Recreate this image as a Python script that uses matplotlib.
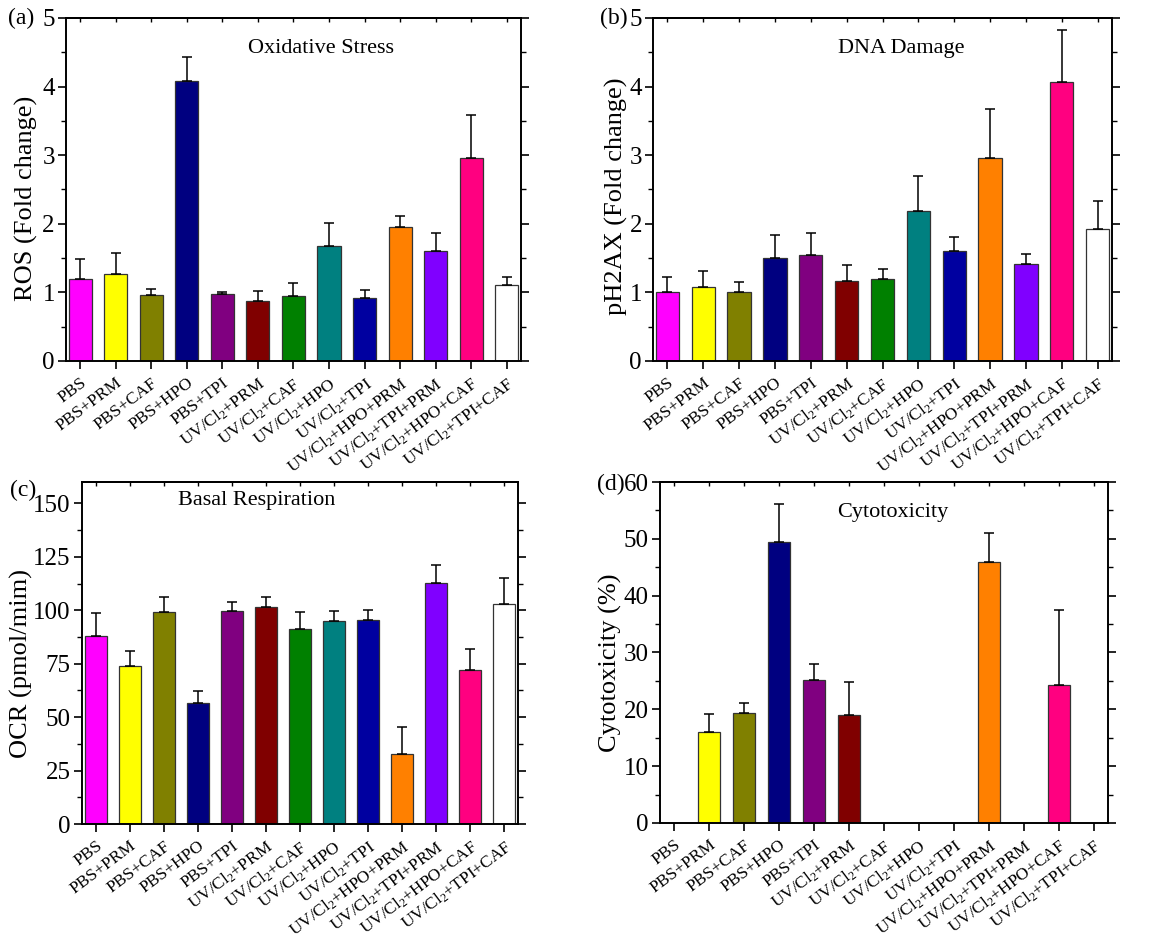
import numpy as np
import matplotlib
matplotlib.use("Agg")
import matplotlib.pyplot as plt
from matplotlib.ticker import MultipleLocator

plt.rcParams["font.family"] = ["Liberation Serif", "DejaVu Serif"]
plt.rcParams["mathtext.default"] = "regular"

# Treatment groups (shared by all four panels)
groups = ["PBS", "PBS+PRM", "PBS+CAF", "PBS+HPO", "PBS+TPI",
          "UV/Cl$_2$+PRM", "UV/Cl$_2$+CAF", "UV/Cl$_2$+HPO", "UV/Cl$_2$+TPI",
          "UV/Cl$_2$+HPO+PRM", "UV/Cl$_2$+TPI+PRM", "UV/Cl$_2$+HPO+CAF",
          "UV/Cl$_2$+TPI+CAF"]
bar_colors = ["#FF00FF", "#FFFF00", "#808000", "#000080", "#800080",
              "#800000", "#008000", "#008080", "#0000A0", "#FF8000",
              "#8000FF", "#FF0080", "#FFFFFF"]

# (a) ROS fold change: mean and SD
ros_mean = [1.19, 1.27, 0.96, 4.08, 0.97, 0.88, 0.95, 1.67, 0.92, 1.95, 1.61, 2.96, 1.11]
ros_sd = [0.29, 0.31, 0.09, 0.35, 0.03, 0.14, 0.19, 0.34, 0.11, 0.17, 0.26, 0.62, 0.11]

# (b) pH2AX fold change
ph2ax_mean = [1.00, 1.08, 1.01, 1.50, 1.54, 1.17, 1.20, 2.18, 1.60, 2.96, 1.41, 4.06, 1.93]
ph2ax_sd = [0.22, 0.23, 0.14, 0.34, 0.32, 0.23, 0.14, 0.51, 0.20, 0.72, 0.15, 0.77, 0.40]

# (c) OCR basal respiration (pmol/min)
ocr_mean = [88.1, 73.9, 99.0, 56.4, 99.8, 101.4, 91.4, 94.8, 95.3, 32.7, 112.9, 72.0, 102.8]
ocr_sd = [10.8, 7.0, 7.3, 6.0, 4.2, 4.9, 7.6, 5.0, 4.7, 12.8, 8.1, 10.0, 12.1]

# (d) Cytotoxicity (%)
cyto_mean = [0.0, 16.0, 19.3, 49.5, 25.1, 19.0, 0.0, 0.0, 0.0, 46.0, 0.0, 24.2, 0.0]
cyto_sd = [0.0, 3.2, 1.9, 6.7, 2.8, 5.8, 0.0, 0.0, 0.0, 5.1, 0.0, 13.2, 0.0]

fig = plt.figure(figsize=(11.76, 9.44), dpi=100)

panels = [
    dict(rect=[0.0561, 0.6176, 0.3869, 0.3634], mean=ros_mean, sd=ros_sd,
         ylim=(0, 5), major=1, minor=0.5, ylabel="ROS (Fold change)",
         label_xy=(-0.0615, 0.475),
         title="Oxidative Stress", title_xy=(0.56, 0.91), tag="(a)", tag_xy=(8, 18)),
    dict(rect=[0.5553, 0.6176, 0.3903, 0.3634], mean=ph2ax_mean, sd=ph2ax_sd,
         ylim=(0, 5), major=1, minor=0.5, ylabel="pH2AX (Fold change)",
         label_xy=(-0.0545, 0.48),
         title="DNA Damage", title_xy=(0.54, 0.91), tag="(b)", tag_xy=(600, 18)),
    dict(rect=[0.0697, 0.1271, 0.3708, 0.3623], mean=ocr_mean, sd=ocr_sd,
         ylim=(0, 160), major=25, minor=12.5, ylabel="OCR (pmol/mim)",
         label_xy=(-0.112, 0.47),
         title="Basal Respiration", title_xy=(0.40, 0.945), tag="(c)", tag_xy=(10, 490)),
    dict(rect=[0.5612, 0.1282, 0.3810, 0.3612], mean=cyto_mean, sd=cyto_sd,
         ylim=(0, 60), major=10, minor=5, ylabel="Cytotoxicity (%)",
         label_xy=(-0.085, 0.47),
         title="Cytotoxicity", title_xy=(0.52, 0.91), tag="(d)", tag_xy=(597, 484)),
]

x = np.arange(1, len(groups) + 1)

for p in panels:
    ax = fig.add_axes(p["rect"])
    mean = np.array(p["mean"])
    sd = np.array(p["sd"])
    edge = ["#333333" if m > 0 else c for m, c in zip(mean, bar_colors)]
    ax.bar(x, mean, width=0.65, color=bar_colors, edgecolor=edge, linewidth=0.9, zorder=2)
    mask = sd > 0
    ax.errorbar(x[mask], mean[mask], yerr=[np.zeros(mask.sum()), sd[mask]],
                fmt="none", ecolor="black", elinewidth=1.1, capsize=3.5,
                capthick=1.1, zorder=3)
    ax.set_xlim(0.6, 13.4)
    ax.set_ylim(*p["ylim"])
    ax.yaxis.set_major_locator(MultipleLocator(p["major"]))
    ax.yaxis.set_minor_locator(MultipleLocator(p["minor"]))
    ax.set_xticks(x)
    ax.set_xticklabels(groups, rotation=37, ha="right", va="top",
                       rotation_mode="anchor", fontsize=12.5)
    ax.tick_params(axis="y", which="major", direction="out", length=6, width=1.2,
                   labelsize=18, right=True, pad=2)
    ax.tick_params(axis="y", which="minor", direction="out", length=3.5, width=1.0,
                   right=True)
    ax.tick_params(axis="x", which="major", direction="out", length=6, width=1.2,
                   pad=4)
    # short inward ticks along the top frame
    top = ax.secondary_xaxis("top")
    top.set_xticks(x)
    top.tick_params(direction="in", length=3, width=1.0, labeltop=False)
    top.spines["top"].set_linewidth(1.4)
    for s in ax.spines.values():
        s.set_linewidth(1.4)
    ax.set_ylabel(p["ylabel"], fontsize=19)
    ax.yaxis.set_label_coords(*p["label_xy"])
    ax.text(p["title_xy"][0], p["title_xy"][1], p["title"], transform=ax.transAxes,
            ha="center", va="center", fontsize=16)
    fig.text(p["tag_xy"][0] / 1176, 1 - p["tag_xy"][1] / 944, p["tag"],
             ha="left", va="center", fontsize=17)

fig.savefig("out.png", dpi=100)
